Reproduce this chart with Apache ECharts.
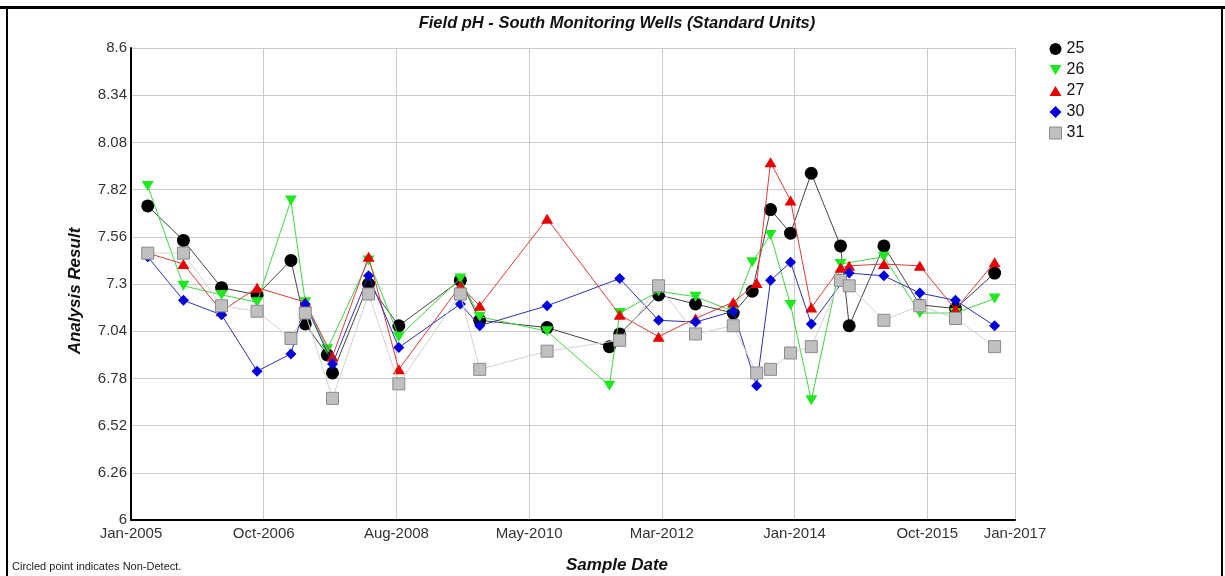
<!DOCTYPE html>
<html>
<head>
<meta charset="utf-8">
<title>Field pH - South Monitoring Wells</title>
<script src="https://cdn.jsdelivr.net/npm/echarts@6/dist/echarts.min.js"></script>
<style>
  html, body { margin: 0; padding: 0; background: #ffffff; }
  #chart { width: 1225px; height: 576px; }
</style>
</head>
<body>
<div id="chart"></div>
<script>
// Sampling events (shared across wells); null = well not sampled at that event
const sampleDates = [
  '2005-03-25', '2005-09-18', '2006-03-26', '2006-09-18', '2007-03-05',
  '2007-05-15', '2007-09-01', '2007-09-27', '2008-03-24', '2008-08-21',
  '2009-06-22', '2009-09-26', '2010-08-26', '2011-07-01', '2011-08-21',
  '2012-03-01', '2012-08-31', '2013-03-06', '2013-06-08', '2013-06-30',
  '2013-09-07', '2013-12-15', '2014-03-28', '2014-08-20', '2014-10-02',
  '2015-03-23', '2015-09-17', '2016-03-12', '2016-09-22'
];

const well25 = [7.73, 7.54, 7.28, 7.24, 7.43, 7.08, 6.91, 6.81, 7.30, 7.07,
  7.32, 7.10, 7.06, 6.955, 7.025, 7.24, 7.19, 7.14, 7.26, null,
  7.71, 7.58, 7.91, 7.51, 7.07, 7.51, 7.185, 7.165, 7.36];
const well26 = [7.84, 7.29, 7.24, 7.20, 7.76, 7.20, 6.94, null, 7.43, 7.01,
  7.33, 7.12, 7.04, 6.74, 7.14, 7.26, 7.23, 7.15, 7.42, null,
  7.57, 7.185, 6.66, 7.41, null, 7.45, 7.14, 7.14, 7.22];
const well27 = [7.47, 7.41, 7.15, 7.28, null, 7.20, null, 6.90, 7.45, 6.83,
  7.29, 7.18, 7.66, null, 7.13, 7.01, 7.11, 7.20, null, 7.305,
  7.97, 7.76, 7.17, 7.39, 7.40, 7.41, 7.40, 7.16, 7.42];
const well30 = [7.45, 7.21, 7.13, 6.82, 6.915, 7.19, null, 6.86, 7.345, 6.95,
  7.19, 7.07, 7.18, null, 7.33, 7.10, 7.09, 7.15, null, 6.74,
  7.32, 7.42, 7.08, null, 7.36, 7.345, 7.25, 7.21, 7.07];
const well31 = [7.47, 7.47, 7.18, 7.15, 7.00, 7.14, null, 6.67, 7.245, 6.75,
  7.245, 6.83, 6.93, null, 6.99, 7.29, 7.025, 7.07, null, 6.81,
  6.83, 6.92, 6.955, 7.32, 7.29, 7.10, 7.18, 7.11, 6.955];

const wellNames = ['25', '26', '27', '30', '31'];
const wellValues = [well25, well26, well27, well30, well31];

// Axis settings
const xStart = '2005-01-01';
const xEnd = '2017-01-01';
const xTickDays = 658;
const yMin = 6, yMax = 8.6, yStep = 0.26;

const FONT = '"Liberation Sans", Arial, Helvetica, sans-serif';
const MONTHS = ['Jan','Feb','Mar','Apr','May','Jun','Jul','Aug','Sep','Oct','Nov','Dec'];
const toMs = s => Date.parse(s + 'T00:00:00Z');

// Marker / line appearance for each well
const styles = [
  { symbol: 'circle', size: 13, color: '#000000', border: '#000000', line: '#444444', icon: 'circle' },
  { symbol: 'path://M0,0L12,0L6,10Z', size: [12, 10], color: '#1ee81e', border: '#1ee81e', line: '#3fd83f', icon: 'path://M0,0L12,0L6,10Z' },
  { symbol: 'path://M6,0L12,10L0,10Z', size: [12, 10], color: '#e80000', border: '#e80000', line: '#e03a3a', icon: 'path://M6,0L12,10L0,10Z' },
  { symbol: 'diamond', size: 11, color: '#0000dd', border: '#0000dd', line: '#3030b0', icon: 'diamond' },
  { symbol: 'rect', size: 12, color: '#c0c0c0', border: '#8a8a8a', line: '#d2d2d2', icon: 'rect' }
];

const series = wellNames.map((name, i) => ({
  name: name,
  type: 'line',
  connectNulls: true,
  symbol: styles[i].symbol,
  symbolSize: styles[i].size,
  showAllSymbol: true,
  lineStyle: { color: styles[i].line, width: 1 },
  itemStyle: { color: styles[i].color, borderColor: styles[i].border, borderWidth: i === 4 ? 1 : 0 },
  emphasis: { disabled: true },
  z: 2 + i,
  data: sampleDates.map((d, k) => [toMs(d), wellValues[i][k]])
}));

const chart = echarts.init(document.getElementById('chart'), null, { renderer: 'canvas' });
chart.setOption({
  animation: false,
  backgroundColor: '#ffffff',
  textStyle: { fontFamily: FONT },
  grid: { left: 131, right: 210, top: 48, bottom: 56, containLabel: false },
  legend: {
    orient: 'vertical',
    left: 1044,
    top: 36,
    itemWidth: 12,
    itemHeight: 12,
    itemGap: 5,
    textStyle: { fontFamily: FONT, fontSize: 16, color: '#111111' },
    selectedMode: false,
    data: wellNames.map((n, i) => ({
      name: n,
      icon: styles[i].icon,
      itemStyle: { color: styles[i].color, borderColor: styles[i].border, borderWidth: i === 4 ? 1 : 0 }
    }))
  },
  xAxis: {
    type: 'value',
    min: toMs(xStart),
    max: toMs(xEnd),
    interval: xTickDays * 86400000,
    axisLine: { show: true, onZero: false, lineStyle: { color: '#000000', width: 2 } },
    axisTick: { show: false },
    axisLabel: {
      fontFamily: FONT, fontSize: 15, color: '#333333', margin: 6,
      formatter: v => { const d = new Date(v); return MONTHS[d.getUTCMonth()] + '-' + d.getUTCFullYear(); }
    },
    splitLine: { show: true, lineStyle: { color: '#cccccc', width: 1 } }
  },
  yAxis: {
    type: 'value',
    min: yMin,
    max: yMax,
    interval: yStep,
    name: 'Analysis Result',
    nameLocation: 'middle',
    nameGap: 47,
    nameTextStyle: { fontFamily: FONT, fontSize: 17, fontWeight: 'bold', fontStyle: 'italic', color: '#111111', padding: [0, 14, 0, 0] },
    axisLine: { show: true, onZero: false, lineStyle: { color: '#000000', width: 2 } },
    axisTick: { show: false },
    axisLabel: {
      fontFamily: FONT, fontSize: 15, color: '#333333', margin: 4,
      formatter: v => String(Math.round(v * 100) / 100)
    },
    splitLine: { show: true, lineStyle: { color: '#cccccc', width: 1 } }
  },
  graphic: [
    { type: 'rect', silent: true, z: 100, shape: { x: 0, y: 6, width: 1225, height: 3 }, style: { fill: '#000000' } },
    { type: 'rect', silent: true, z: 100, shape: { x: 6, y: 6, width: 2, height: 570 }, style: { fill: '#000000' } },
    { type: 'rect', silent: true, z: 100, shape: { x: 1221, y: 6, width: 2, height: 570 }, style: { fill: '#000000' } },
    {
      type: 'text', silent: true, z: 100, x: 617, y: 23,
      style: {
        text: 'Field pH - South Monitoring Wells (Standard Units)',
        font: 'italic bold 16.5px ' + FONT, fill: '#111111',
        textAlign: 'center', textVerticalAlign: 'middle'
      }
    },
    {
      type: 'text', silent: true, z: 100, x: 617, y: 565,
      style: {
        text: 'Sample Date',
        font: 'italic bold 17px ' + FONT, fill: '#111111',
        textAlign: 'center', textVerticalAlign: 'middle'
      }
    },
    {
      type: 'text', silent: true, z: 100, x: 12, y: 567,
      style: {
        text: 'Circled point indicates Non-Detect.',
        font: '11px ' + FONT, fill: '#222222',
        textAlign: 'left', textVerticalAlign: 'middle'
      }
    }
  ],
  series: series
});
</script>
</body>
</html>
